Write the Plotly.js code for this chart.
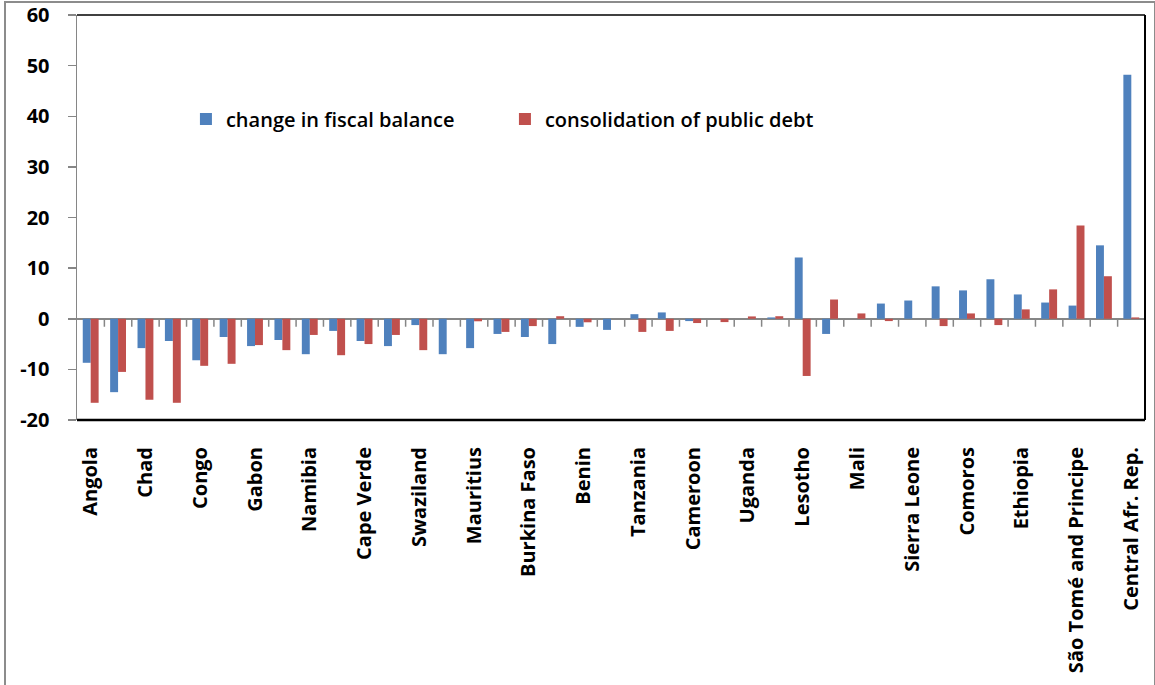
<!DOCTYPE html>
<html>
<head>
<meta charset="utf-8">
<script src="https://cdn.plot.ly/plotly-3.0.1.min.js"></script>
<style>
  html, body { margin: 0; padding: 0; background: #fff; }
  #wrap { position: relative; width: 1155px; height: 685px; }
  #frame { position: absolute; left: 4px; top: 1px; width: 1148px; height: 690px;
           border-left: 2px solid #8c8c8c; border-top: 2px solid #8c8c8c; border-right: 2px solid #8c8c8c;
           pointer-events: none; z-index: 5; }
  #chart { position: absolute; left: 0; top: 0; width: 1155px; height: 685px; }
</style>
</head>
<body>
<div id="wrap">
  <div id="chart"></div>
  <div id="frame"></div>
</div>
<script>
// Categories (only every other one is labelled in the reference)
const categories = [
  "Angola", "(unlabelled 1)", "Chad", "(unlabelled 2)", "Congo", "(unlabelled 3)",
  "Gabon", "(unlabelled 4)", "Namibia", "(unlabelled 5)", "Cape Verde", "(unlabelled 6)",
  "Swaziland", "(unlabelled 7)", "Mauritius", "(unlabelled 8)", "Burkina Faso", "(unlabelled 9)",
  "Benin", "(unlabelled 10)", "Tanzania", "(unlabelled 11)", "Cameroon", "(unlabelled 12)",
  "Uganda", "(unlabelled 13)", "Lesotho", "(unlabelled 14)", "Mali", "(unlabelled 15)",
  "Sierra Leone", "(unlabelled 16)", "Comoros", "(unlabelled 17)", "Ethiopia", "(unlabelled 18)",
  "São Tomé and Principe", "(unlabelled 19)", "Central Afr. Rep."
];
const tickLabels = [
  "Angola", "Chad", "Congo", "Gabon", "Namibia", "Cape Verde", "Swaziland", "Mauritius",
  "Burkina Faso", "Benin", "Tanzania", "Cameroon", "Uganda", "Lesotho", "Mali",
  "Sierra Leone", "Comoros", "Ethiopia", "São Tomé and Principe", "Central Afr. Rep."
];
const fiscalBalance = [
  -8.7, -14.5, -5.8, -4.4, -8.2, -3.6, -5.4, -4.2, -7.0, -2.4,
  -4.4, -5.4, -1.25, -7.0, -5.8, -3.0, -3.6, -5.0, -1.6, -2.2,
  0.9, 1.25, -0.46, 0, 0, 0.26, 12.1, -3.0, 0, 3.0,
  3.6, 6.4, 5.6, 7.8, 4.8, 3.2, 2.6, 14.5, 48.2
];
const publicDebt = [
  -16.6, -10.5, -16.0, -16.6, -9.3, -8.9, -5.2, -6.2, -3.2, -7.2,
  -5.0, -3.2, -6.2, 0, -0.5, -2.6, -1.45, 0.5, -0.7, 0,
  -2.6, -2.4, -0.85, -0.66, 0.46, 0.5, -11.3, 3.8, 1.05, -0.46,
  0, -1.45, 1.05, -1.25, 1.85, 5.8, 18.4, 8.4, 0.26
];
const yTicks = [-20, -10, 0, 10, 20, 30, 40, 50, 60];

const FONT = "'Open Sans', sans-serif";

const traces = [
  { type: "bar", name: "change in fiscal balance", x: categories, y: fiscalBalance,
    marker: { color: "#4F81BD" } },
  { type: "bar", name: "consolidation of public debt", x: categories, y: publicDebt,
    marker: { color: "#C0504D" } }
];

// category-boundary tick marks on the zero line (Excel style)
const shapes = [];
for (let i = 0; i < categories.length; i++) {
  shapes.push({ type: "line", xref: "x", yref: "y", ysizemode: "pixel", yanchor: 0,
    x0: i + 0.5, x1: i + 0.5, y0: 0, y1: -8,
    line: { color: "#868686", width: 1.5 } });
}
// plot-area border (top, right, bottom)
shapes.push({ type: "line", xref: "paper", yref: "paper", x0: 0, x1: 1, y0: 1, y1: 1, line: { color: "#000", width: 1.5 } });
shapes.push({ type: "line", xref: "paper", yref: "paper", x0: 1, x1: 1, y0: 0, y1: 1, line: { color: "#000", width: 2 } });
shapes.push({ type: "line", xref: "paper", yref: "paper", x0: 0, x1: 1, y0: 0, y1: 0, line: { color: "#000", width: 2.5 } });

const layout = {
  width: 1155, height: 685,
  margin: { l: 77, r: 10, t: 15, b: 265, pad: 0 },
  paper_bgcolor: "#fff", plot_bgcolor: "#fff",
  font: { family: FONT, size: 20, color: "#000" },
  barmode: "group", bargap: 0.42, bargroupgap: 0,
  showlegend: true,
  legend: { orientation: "h", x: 0.102, y: 0.743, xanchor: "left", yanchor: "middle",
    bgcolor: "rgba(0,0,0,0)", font: { family: FONT, size: 20, weight: 600, color: "#000" },
    entrywidth: 274, traceorder: "normal" },
  xaxis: {
    type: "category", range: [-0.5, categories.length - 0.5],
    tickmode: "array", tickvals: tickLabels, ticktext: tickLabels,
    tickangle: -90, ticks: "outside", ticklen: 18, tickcolor: "rgba(0,0,0,0)",
    tickfont: { family: FONT, size: 20, weight: "bold", color: "#000" },
    showline: false, showgrid: false, zeroline: false, fixedrange: true
  },
  yaxis: {
    range: [-20, 60], tickmode: "array", tickvals: yTicks, ticktext: yTicks.map(String),
    ticks: "outside", ticklen: 8, tickwidth: 1.5, tickcolor: "#868686",
    showline: true, linecolor: "#868686", linewidth: 1.5,
    showgrid: false, zeroline: true, zerolinecolor: "#868686", zerolinewidth: 2,
    tickfont: { family: FONT, size: 20, weight: "bold", color: "#000" },
    ticklabelstandoff: 14, fixedrange: true
  },
  shapes: shapes
};

Plotly.newPlot("chart", traces, layout, { displayModeBar: false, staticPlot: true });
</script>
</body>
</html>
